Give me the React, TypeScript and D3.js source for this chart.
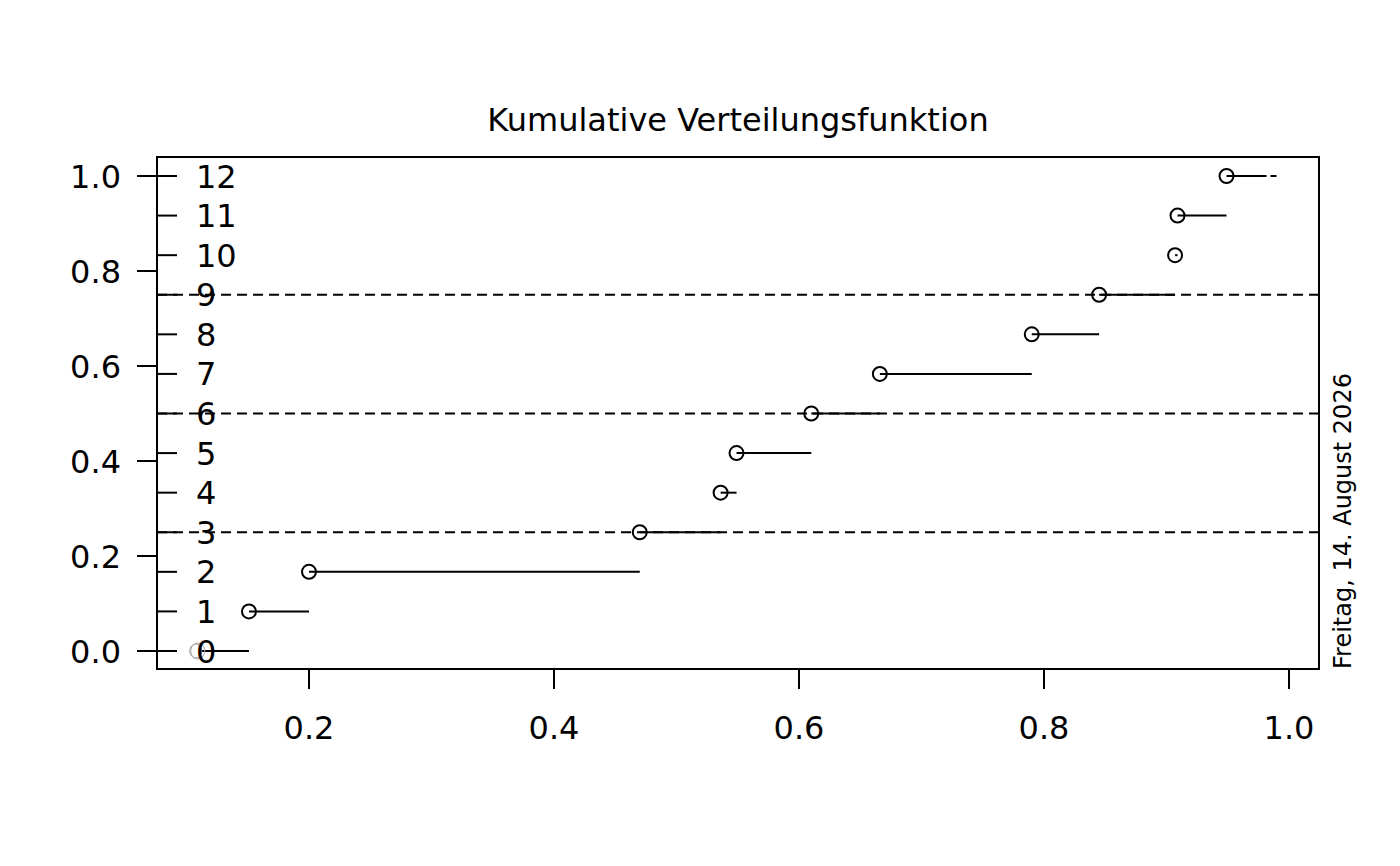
import React from "react";
import * as d3 from "d3";

const title = "Kumulative Verteilungsfunktion";
const sideNote = "Freitag, 14. August 2026";
const pointX = [0.110, 0.151, 0.200, 0.470, 0.536, 0.549, 0.610, 0.666, 0.790, 0.845, 0.907, 0.909, 0.949];
const lastEnd = 0.990;
const levelLabels = ["0", "1", "2", "3", "4", "5", "6", "7", "8", "9", "10", "11", "12"];
const xTicks = [0.2, 0.4, 0.6, 0.8, 1.0];
const yTicks = [0.0, 0.2, 0.4, 0.6, 0.8, 1.0];
const refLines = [0.25, 0.5, 0.75];

const W = 1400, H = 866;
const box = { left: 157, right: 1319, top: 157, bottom: 669 };
const FONT = "DejaVu Sans, sans-serif";

export default function App() {
  const x = d3.scaleLinear().domain([0, 1]).range([64, 1289]);
  const y = d3.scaleLinear().domain([0, 1]).range([651, 176]);
  const n = pointX.length - 1;
  const levels = pointX.map((_, i) => i / n);
  const segEnds = pointX.map((_, i) => (i < n ? pointX[i + 1] : lastEnd));

  return (
    <svg width={W} height={H} style={{ position: "absolute", left: 0, top: 0, background: "#fff" }}
      fontFamily={FONT}>
      <rect x={0} y={0} width={W} height={H} fill="#fff" />
      {refLines.map((v) => (
        <line key={"r" + v} x1={box.left} x2={box.right} y1={y(v)} y2={y(v)}
          stroke="#000" strokeWidth={2} strokeDasharray="10 6" />
      ))}
      {levels.map((v, i) => (
        <line key={"it" + i} x1={box.left} x2={box.left + 20} y1={y(v)} y2={y(v)} stroke="#000" strokeWidth={2} />
      ))}
      {pointX.map((px, i) => (
        i === 0 ? (
          <line key={"s" + i} x1={x(px) + 1} x2={x(segEnds[i])} y1={y(levels[i])} y2={y(levels[i])}
            stroke="#000" strokeWidth={2} />
        ) : (
          <line key={"s" + i} x1={x(px)} x2={x(segEnds[i])} y1={y(levels[i])} y2={y(levels[i])}
            stroke="#000" strokeWidth={2} strokeDasharray={i === n ? "40 4 6" : undefined} />
        )
      ))}
      {pointX.map((px, i) => (
        i === 0 ? (
          <g key={"c" + i}>
            <ellipse cx={x(px) - 3} cy={y(levels[i])} rx={6} ry={7} fill="none" stroke="#999" strokeWidth={1} />
            <ellipse cx={x(px) - 1} cy={y(levels[i])} rx={7} ry={8} fill="none" stroke="#aaa" strokeWidth={1} />
          </g>
        ) : (
          <circle key={"c" + i} cx={x(px)} cy={y(levels[i])} r={7} fill="none" stroke="#000" strokeWidth={2} />
        )
      ))}
      {levelLabels.map((t, i) => (
        <text key={"l" + i} x={196} y={y(levels[i])} dy="0.36em" fontSize={32} fill="#000">{t}</text>
      ))}
      <rect x={box.left} y={box.top} width={box.right - box.left} height={box.bottom - box.top}
        fill="none" stroke="#000" strokeWidth={2} />
      {yTicks.map((v) => (
        <g key={"y" + v}>
          <line x1={box.left - 20} x2={box.left} y1={y(v)} y2={y(v)} stroke="#000" strokeWidth={2} />
          <text x={121} y={y(v)} dy="0.36em" textAnchor="end" fontSize={32} fill="#000">{v.toFixed(1)}</text>
        </g>
      ))}
      {xTicks.map((v) => (
        <g key={"x" + v}>
          <line x1={x(v)} x2={x(v)} y1={box.bottom} y2={box.bottom + 20} stroke="#000" strokeWidth={2} />
          <text x={x(v)} y={739} textAnchor="middle" fontSize={32} fill="#000">{v.toFixed(1)}</text>
        </g>
      ))}
      <text x={(box.left + box.right) / 2} y={131} textAnchor="middle" fontSize={32} fill="#000">{title}</text>
      <text transform={`translate(1351, ${box.bottom}) rotate(-90)`} x={0} y={0} fontSize={24} fill="#000">{sideNote}</text>
    </svg>
  );
}
